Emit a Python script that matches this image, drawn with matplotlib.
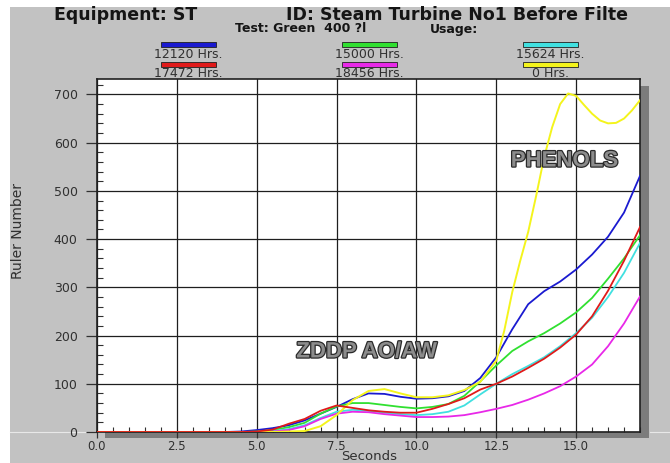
import matplotlib
matplotlib.use("Agg")
import matplotlib.pyplot as plt
import matplotlib.patheffects as pe
from matplotlib.patches import Rectangle
from matplotlib.ticker import MultipleLocator, FormatStrFormatter

# ---------------- data ----------------
seconds = [0.0, 0.5, 1.0, 1.5, 2.0, 2.5, 3.0, 3.5, 4.0, 4.5, 5.0, 5.5, 6.0, 6.5,
           7.0, 7.5, 8.0, 8.5, 9.0, 9.5, 10.0, 10.5, 11.0, 11.5, 12.0, 12.5,
           13.0, 13.5, 14.0, 14.5, 15.0, 15.5, 16.0, 16.5, 17.0]

hrs_12120 = [0, 0, 0, 0, 0, 0, 0, 0, 0, 1, 4, 8, 14, 24, 38, 52, 68, 80, 79, 73,
             69, 70, 74, 85, 112, 155, 213, 265, 292, 312, 337, 368, 405, 455, 531]
hrs_15000 = [0, 0, 0, 0, 0, 0, 0, 0, 0, 0, 1, 4, 10, 19, 38, 53, 60, 60, 56, 52,
             49, 52, 58, 75, 105, 138, 168, 188, 205, 225, 248, 278, 318, 360, 408]
hrs_15624 = [0, 0, 0, 0, 0, 0, 0, 0, 0, 0, 0, 2, 6, 14, 29, 42, 46, 44, 40, 37,
             35, 37, 42, 55, 78, 100, 120, 137, 155, 178, 205, 237, 280, 330, 392]
hrs_17472 = [0, 0, 0, 0, 0, 0, 0, 0, 0, 0, 1, 5, 17, 27, 44, 55, 50, 45, 42, 40,
             40, 48, 58, 70, 88, 100, 115, 133, 152, 175, 202, 240, 293, 355, 425]
hrs_18456 = [0, 0, 0, 0, 0, 0, 0, 0, 0, 0, 0, 1, 4, 12, 27, 38, 42, 41, 37, 34,
             31, 31, 32, 35, 41, 48, 56, 67, 80, 95, 115, 140, 178, 225, 281]

seconds_0hrs = [0.0, 0.5, 1.0, 1.5, 2.0, 2.5, 3.0, 3.5, 4.0, 4.5, 5.0, 5.5, 6.0,
                6.5, 7.0, 7.5, 8.0, 8.5, 9.0, 9.5, 10.0, 10.5, 11.0, 11.5, 12.0,
                12.5, 12.75, 13.0, 13.25, 13.5, 13.75, 14.0, 14.25, 14.5, 14.75,
                15.0, 15.25, 15.5, 15.75, 16.0, 16.25, 16.5, 16.75, 17.0]
hrs_0 = [0, 0, 0, 0, 0, 0, 0, 0, 0, 0, 0, 0, 1, 2, 12, 35, 66, 85, 89, 80, 72,
         72, 76, 87, 104, 148, 210, 290, 355, 415, 490, 570, 632, 680, 702, 697,
         678, 660, 646, 640, 641, 650, 667, 688]

series_labels = ["12120 Hrs.", "15000 Hrs.", "15624 Hrs.",
                 "17472 Hrs.", "18456 Hrs.", "0 Hrs."]
series_colors = ["#1a1ad0", "#30e030", "#40e0e0", "#e01a1a", "#e828e8", "#f4f41c"]

x_ticks = [0.0, 2.5, 5.0, 7.5, 10.0, 12.5, 15.0]
y_ticks = [0, 100, 200, 300, 400, 500, 600, 700]

# ---------------- figure ----------------
W, H = 670, 463
fig = plt.figure(figsize=(W / 100, H / 100), dpi=100, facecolor="white")


def fx(px):
    return px / W


def fy(py):
    return 1 - py / H


# gray panel
fig.patches.append(Rectangle((fx(10), 0), fx(670) - fx(10), fy(7),
                             transform=fig.transFigure, facecolor="#c2c2c2",
                             edgecolor="none", zorder=-3))
# drop shadow behind plot
fig.patches.append(Rectangle((fx(105), fy(438)), fx(649) - fx(105), fy(86) - fy(438),
                             transform=fig.transFigure, facecolor="#7c7c7c",
                             edgecolor="none", zorder=-2))
# faint light line across the panel at the baseline level
fig.lines.append(plt.Line2D([fx(10), fx(97)], [fy(432), fy(432)],
                            transform=fig.transFigure, color="#e8e8e8", lw=0.8,
                            zorder=-1))
fig.lines.append(plt.Line2D([fx(650), fx(670)], [fy(432), fy(432)],
                            transform=fig.transFigure, color="#e8e8e8", lw=0.8,
                            zorder=-1))

ax = fig.add_axes([fx(97), fy(432), fx(640) - fx(97), fy(79) - fy(432)])
ax.set_zorder(1)
ax.set_facecolor("white")
ax.set_xlim(0, 17)
ax.set_ylim(0, 732)

plain = {0: hrs_12120, 1: hrs_15000, 2: hrs_15624, 3: hrs_17472, 4: hrs_18456}
for idx in [0, 1, 2, 4, 5, 3]:
    if idx == 5:
        ax.plot(seconds_0hrs, hrs_0, color=series_colors[5], lw=1.4,
                solid_joinstyle="round", zorder=3)
    else:
        ax.plot(seconds, plain[idx], color=series_colors[idx], lw=1.3,
                solid_joinstyle="round", zorder=3)

ax.set_xticks(x_ticks)
ax.set_yticks(y_ticks)
ax.xaxis.set_major_formatter(FormatStrFormatter("%.1f"))
ax.xaxis.set_minor_locator(MultipleLocator(0.5))
ax.yaxis.set_minor_locator(MultipleLocator(20))
ax.grid(True, which="major", color="#1e1e1e", lw=0.9)
ax.set_axisbelow(True)

ax.tick_params(axis="y", which="major", direction="out", length=8, width=0.9,
               color="#303030", pad=6, labelsize=9, labelcolor="#303030")
ax.tick_params(axis="y", which="minor", direction="in", length=4.5, width=0.8,
               color="#303030")
ax.tick_params(axis="x", which="major", direction="out", length=4.5, width=0.9,
               color="#303030", pad=1, labelsize=8.5, labelcolor="#303030")
ax.tick_params(axis="x", which="minor", direction="in", length=3.5, width=0.8,
               color="#303030")
for sp in ax.spines.values():
    sp.set_color("#202020")
    sp.set_linewidth(1.2)

# axis labels
fig.text(fx(18), fy(231), "Ruler Number", rotation=90, ha="center", va="center",
         fontsize=10, color="#303030")
fig.text(fx(369), fy(462.5), "Seconds", ha="center", va="bottom",
         fontsize=9.5, color="#303030")

# title
fig.text(fx(126), fy(15), "Equipment: ST", ha="center", va="center",
         fontsize=12.5, fontweight="bold", color="#151515")
fig.text(fx(457), fy(15), "ID: Steam Turbine No1 Before Filte", ha="center",
         va="center", fontsize=12.5, fontweight="bold", color="#151515")
fig.text(fx(301), fy(29), "Test: Green  400 ?l", ha="center", va="center",
         fontsize=9, fontweight="bold", color="#151515")
fig.text(fx(454), fy(29), "Usage:", ha="center", va="center",
         fontsize=9, fontweight="bold", color="#151515")

# legend (3 columns x 2 rows)
col_x = [188, 369, 550]
row_patch_y = [44.5, 64]
row_text_y = [54.5, 73.5]
for i, (lab, col) in enumerate(zip(series_labels, series_colors)):
    r, c = divmod(i, 3)
    cx = col_x[c]
    fig.patches.append(Rectangle((fx(cx - 27.5), fy(row_patch_y[r] + 2.5)),
                                 fx(55), fy(0) - fy(5), transform=fig.transFigure,
                                 facecolor=col, edgecolor="#202020", lw=0.6,
                                 zorder=2))
    fig.text(fx(cx), fy(row_text_y[r]), lab, ha="center", va="center",
             fontsize=9, color="#303030")

# annotations
effects = [pe.withStroke(linewidth=1.8, foreground="#2a2a2a")]
ax.text(8.44, 166, "ZDDP AO/AW", ha="center", va="center",
        fontsize=16, fontweight="bold", family="Liberation Sans",
        color="#8c8c8c", path_effects=effects, zorder=4)
ax.text(14.64, 562, "PHENOLS", ha="center", va="center",
        fontsize=16, fontweight="bold", family="Liberation Sans",
        color="#8c8c8c", path_effects=effects, zorder=4)

fig.savefig("out.png", dpi=100, facecolor=fig.get_facecolor())
